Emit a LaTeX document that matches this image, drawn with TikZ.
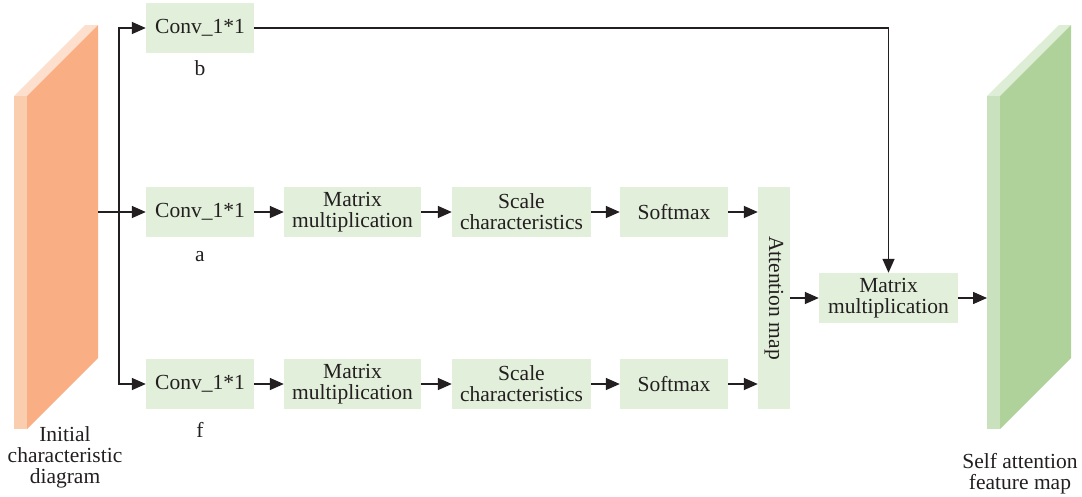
\documentclass[tikz,border=0pt]{standalone}
\usepackage{fontspec}
\setmainfont{Liberation Serif}
\usetikzlibrary{arrows.meta}
\definecolor{ink}{HTML}{231F20}
\definecolor{boxfill}{HTML}{E2EFDA}
\definecolor{inFront}{HTML}{F9AF83}
\definecolor{inSide}{HTML}{FBCDAF}
\definecolor{inTop}{HTML}{FDDFCE}
\definecolor{outFront}{HTML}{AFD29A}
\definecolor{outSide}{HTML}{C9E1BC}
\definecolor{outTop}{HTML}{DEEDD6}
\begin{document}
\begin{tikzpicture}[x=1pt,y=-1pt,
  txt/.style={text=ink, font=\fontsize{21.5}{21}\selectfont, align=center, inner sep=0pt},
  blk/.style={txt, fill=boxfill, minimum height=50pt},
  flow/.style={draw=ink, line width=1.5pt, -{Triangle[length=14pt,width=12pt]}}]
\useasboundingbox (0,0) rectangle (1082,496);

% input feature slab
\fill[inTop] (14,96) -- (85,25) -- (98,25) -- (27,96) -- cycle;
\fill[inSide] (14,96) rectangle (27,429);
\fill[inFront] (27,96) -- (98,25) -- (98,358) -- (27,429) -- cycle;
\coordinate (inL) at (98,212);
\node[txt] (inLabel) at (65,457) {Initial\\characteristic\\diagram};

% output feature slab
\fill[outTop] (987,96) -- (1059,25) -- (1071,25) -- (1000,96) -- cycle;
\fill[outSide] (987,96) rectangle (1000,429);
\fill[outFront] (1000,96) -- (1071,25) -- (1071,358) -- (1000,429) -- cycle;
\coordinate (outR) at (987,298);
\node[txt] (outLabel) at (1020,474) {Self attention\\feature map};

% 1x1 convolutions
\node[blk, minimum width=108pt] (b) at (200,28) {Conv\_1*1};
\node[blk, minimum width=108pt] (a) at (200,212) {Conv\_1*1};
\node[blk, minimum width=108pt] (f) at (200,384) {Conv\_1*1};
\node[txt] (bl) at (200,68) {b};
\node[txt] (al) at (200,257) {a};
\node[txt] (fl) at (200,430) {f};

% upper branch
\node[blk, minimum width=137pt] (ma) at (352.5,212) {Matrix\\multiplication};
\node[blk, minimum width=139pt] (sa) at (521.5,212) {Scale\\characteristics};
\node[blk, minimum width=108pt] (xa) at (674,212) {Softmax};

% lower branch
\node[blk, minimum width=137pt] (mf) at (352.5,384) {Matrix\\multiplication};
\node[blk, minimum width=139pt] (sf) at (521.5,384) {Scale\\characteristics};
\node[blk, minimum width=108pt] (xf) at (674,384) {Softmax};

% attention map and final product
\node[blk, minimum width=32pt, minimum height=222pt] (att) at (774,298) {};
\node[txt, rotate=-90] (attText) at (att.center) {Attention map};
\node[blk, minimum width=139pt] (mm) at (888.5,298) {Matrix\\multiplication};

% input fan-out
\coordinate (split) at (119,212);
\draw[flow] (inL) -- (a.west);
\draw[flow] (split) |- (b.west);
\draw[flow] (split) |- (f.west);

% branch chains
\draw[flow] (a) -- (ma);
\draw[flow] (ma) -- (sa);
\draw[flow] (sa) -- (xa);
\draw[flow] (xa.east) -- (att.west |- xa.east);
\draw[flow] (f) -- (mf);
\draw[flow] (mf) -- (sf);
\draw[flow] (sf) -- (xf);
\draw[flow] (xf.east) -- (att.west |- xf.east);

% combination
\draw[flow] (att.east |- mm.west) -- (mm.west);
\draw[flow] (b.east) -| (mm.north);
\draw[flow] (mm.east) -- (outR);
\end{tikzpicture}
\end{document}
